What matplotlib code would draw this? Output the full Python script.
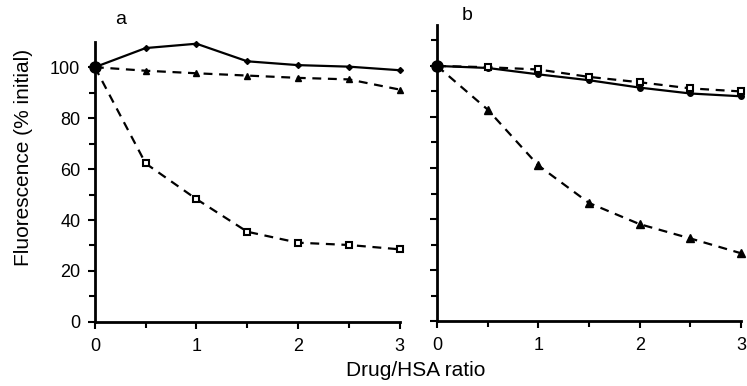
import numpy as np
import matplotlib.pyplot as plt

plt.rcParams['font.family'] = ['Liberation Sans', 'DejaVu Sans']

ratio = [0, 0.5, 1, 1.5, 2, 2.5, 3]

# panel a
a_solid = [100, 107.5, 109.2, 102.3, 100.8, 100.2, 98.8]
a_tri = [100, 98.6, 97.6, 96.7, 95.8, 95.2, 91.2]
a_square = [100, 62.2, 48.2, 35.4, 31.1, 30.2, 28.5]

# panel b
b_solid = [100, 99.2, 96.7, 94.4, 91.5, 89.2, 88.1]
b_square = [100, 99.5, 98.6, 95.7, 93.6, 91.2, 90.0]
b_tri = [100, 82.9, 61.0, 46.3, 38.0, 32.4, 26.6]

fig = plt.figure(figsize=(7.47, 3.86), dpi=100)
ax_a = fig.add_axes([0.127, 0.166, 0.408, 0.726])
ax_b = fig.add_axes([0.585, 0.168, 0.407, 0.767])

dash = (0, (4, 3))


def style(ax, ymax, labels):
    ax.set_xlim(0, 3)
    ax.set_ylim(0, ymax)
    for s in ['top', 'right']:
        ax.spines[s].set_visible(False)
    for s in ['left', 'bottom']:
        ax.spines[s].set_linewidth(2)
    ax.set_xticks([0, 1, 2, 3])
    ax.set_xticks([0.5, 1.5, 2.5], minor=True)
    ax.set_yticks(np.arange(0, 101, 20))
    ax.set_yticks(np.arange(10, ymax, 10), minor=True)
    ax.tick_params(which='both', direction='out', width=1.5, labelsize=13)
    ax.tick_params(which='major', length=5)
    ax.tick_params(which='minor', length=4)
    ax.tick_params(axis='x', which='major', pad=6.5)
    ax.tick_params(axis='y', which='major', pad=5.5)
    if not labels:
        ax.set_yticklabels([])


# panel a
ax_a.plot(ratio, a_solid, '-', color='black', lw=1.6, marker='D', ms=3, clip_on=False)
ax_a.plot(ratio, a_tri, linestyle=dash, color='black', lw=1.6, marker='^', ms=5, clip_on=False)
ax_a.plot(ratio, a_square, linestyle=dash, color='black', lw=1.6, marker='s', ms=5,
          mfc='white', mew=1.5, clip_on=False)
ax_a.plot([0], [100], 'o', color='black', ms=8, clip_on=False)
style(ax_a, 110, True)
ax_a.text(0.25, 117, 'a', fontsize=14, ha='center')

# panel b
ax_b.plot(ratio, b_solid, '-', color='black', lw=1.6, marker='o', ms=4, clip_on=False)
ax_b.plot(ratio, b_square, linestyle=dash, color='black', lw=1.6, marker='s', ms=5,
          mfc='white', mew=1.5, clip_on=False)
ax_b.plot(ratio, b_tri, linestyle=dash, color='black', lw=1.6, marker='^', ms=6, clip_on=False)
ax_b.plot([0], [100], 'o', color='black', ms=8, clip_on=False)
style(ax_b, 116, False)
ax_b.text(0.3, 118, 'b', fontsize=14, ha='center')

fig.text(0.031, 0.592, 'Fluorescence (% initial)', fontsize=15, rotation=90,
         ha='center', va='center')
fig.text(0.556, 0.039, 'Drug/HSA ratio', fontsize=15, ha='center', va='center')

fig.savefig('out.png', dpi=100)
